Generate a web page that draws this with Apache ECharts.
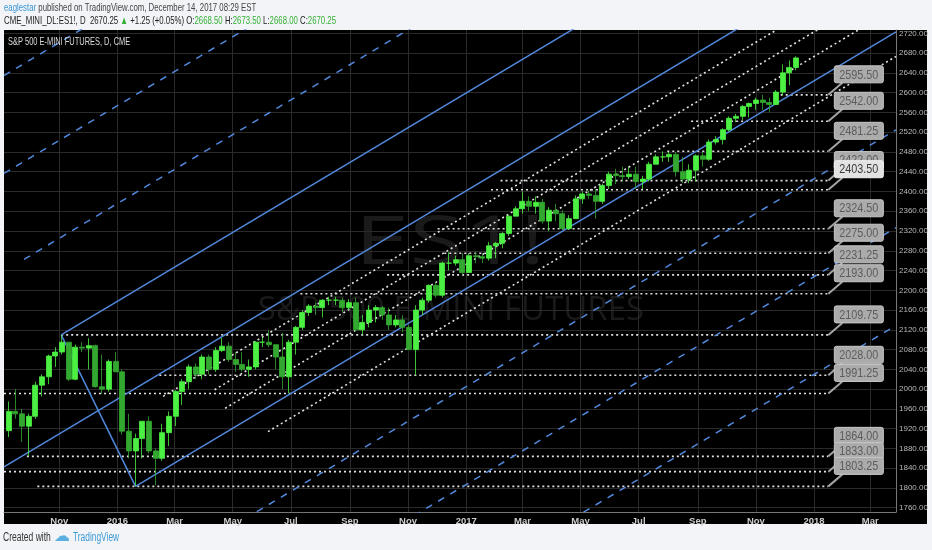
<!DOCTYPE html>
<html>
<head>
    <meta charset="utf-8">
    <title>S&amp;P 500 E-MINI FUTURES, D, CME</title>
    <script src="https://cdn.jsdelivr.net/npm/echarts@6.0.0/dist/echarts.min.js"></script>
    <style>
        html, body { margin: 0; padding: 0; background: #f2f4f7; }
        #chart { width: 932px; height: 550px; }
    </style>
</head>
<body>
<div id="chart"></div>
<script type="text/javascript">
    // weekly bars of ES1! (mid-week date)
    var weeks = [
        '2015-09-09','2015-09-16','2015-09-23','2015-09-30','2015-10-07','2015-10-14','2015-10-21','2015-10-28','2015-11-04','2015-11-11','2015-11-18','2015-11-25','2015-12-02','2015-12-09','2015-12-16','2015-12-23','2015-12-30',
        '2016-01-06','2016-01-13','2016-01-20','2016-01-27','2016-02-03','2016-02-10','2016-02-17','2016-02-24','2016-03-02','2016-03-09','2016-03-16','2016-03-23','2016-03-30','2016-04-06','2016-04-13','2016-04-20','2016-04-27','2016-05-04','2016-05-11','2016-05-18','2016-05-25','2016-06-01','2016-06-08','2016-06-15','2016-06-22','2016-06-29','2016-07-06','2016-07-13','2016-07-20','2016-07-27','2016-08-03','2016-08-10','2016-08-17','2016-08-24','2016-08-31','2016-09-07','2016-09-14','2016-09-21','2016-09-28','2016-10-05','2016-10-12','2016-10-19','2016-10-26','2016-11-02','2016-11-09','2016-11-16','2016-11-23','2016-11-30','2016-12-07','2016-12-14','2016-12-21','2016-12-28',
        '2017-01-04','2017-01-11','2017-01-18','2017-01-25','2017-02-01','2017-02-08','2017-02-15','2017-02-22','2017-03-01','2017-03-08','2017-03-15','2017-03-22','2017-03-29','2017-04-05','2017-04-12','2017-04-19','2017-04-26','2017-05-03','2017-05-10','2017-05-17','2017-05-24','2017-05-31','2017-06-07','2017-06-14','2017-06-21','2017-06-28','2017-07-05','2017-07-12','2017-07-19','2017-07-26','2017-08-02','2017-08-09','2017-08-16','2017-08-23','2017-08-30','2017-09-06','2017-09-13','2017-09-20','2017-09-27','2017-10-04','2017-10-11','2017-10-18','2017-10-25','2017-11-01','2017-11-08','2017-11-15','2017-11-22','2017-11-29','2017-12-06','2017-12-13'
    ];
    var opens = [
        1916,1955,1950,1925,1945,2008,2025,2067,2075,2095,2020,2085,2083,2088,2005,2000,2056,
        2035,1915,1875,1900,1935,1875,1860,1912,1945,1995,2015,2045,2030,2065,2040,2078,2087,2060,2050,2040,2045,2095,2095,2090,2065,2025,2095,2125,2155,2168,2165,2180,2180,2180,2165,2175,2120,2135,2160,2165,2150,2130,2140,2125,2080,2160,2180,2210,2190,2255,2255,2262,
        2236,2270,2268,2265,2290,2295,2315,2350,2365,2380,2370,2378,2340,2362,2355,2325,2345,2385,2395,2392,2380,2412,2435,2432,2430,2435,2420,2425,2455,2470,2470,2475,2440,2425,2443,2472,2465,2500,2505,2525,2548,2552,2572,2578,2585,2580,2576,2601,2640,2651
    ];
    var closes = [
        1955,1950,1925,1945,2008,2025,2067,2075,2095,2020,2085,2083,2088,2005,2000,2056,2035,
        1915,1875,1900,1935,1875,1860,1912,1945,1995,2015,2045,2030,2065,2040,2078,2087,2060,2050,2040,2045,2095,2095,2090,2065,2025,2095,2125,2155,2168,2165,2180,2180,2180,2165,2175,2120,2135,2160,2165,2150,2130,2140,2125,2080,2160,2180,2210,2190,2255,2255,2262,2236,
        2270,2268,2265,2290,2295,2315,2350,2365,2380,2370,2378,2340,2362,2355,2325,2345,2385,2395,2392,2380,2412,2435,2432,2430,2435,2420,2425,2455,2470,2470,2475,2440,2425,2443,2472,2465,2500,2505,2525,2548,2552,2572,2578,2585,2580,2576,2601,2640,2651,2670.25
    ];
    var lows = [
        1903,1940,1893,1864,1940,1985,2010,2045,2070,2016,2018,2075,2040,2003,1990,1995,2035,
        1908,1860,1803.25,1860,1870,1806,1855,1885,1925,1968,2000,2020,2020,2030,2035,2075,2055,2035,2035,2025,2040,2085,2085,2040,2000,1991.25,2070,2120,2148,2150,2145,2170,2170,2155,2160,2118,2110,2125,2135,2140,2120,2125,2115,2080,2028,2150,2175,2185,2185,2240,2250,2231.25,
        2235,2255,2255,2260,2265,2285,2310,2350,2355,2360,2355,2335,2320,2340,2322,2322,2345,2375,2385,2345,2375,2405,2415,2420,2425,2405,2405,2420,2455,2460,2460,2430,2417,2417,2420,2450,2462,2495,2495,2522,2540,2545,2550,2565,2565,2560,2575,2595,2615,2645
    ];
    var highs = [
        1975,2000,1960,1950,2015,2030,2070,2085,2109.75,2095,2090,2095,2103,2090,2070,2060,2075,
        2040,1950,1910,1935,1945,1880,1930,1955,1998,2020,2050,2052,2070,2070,2085,2104,2095,2075,2075,2060,2097,2105,2119,2090,2114,2100,2128,2160,2172,2175,2182,2187,2187,2185,2182,2185,2150,2170,2170,2168,2165,2150,2150,2130,2170,2185,2212,2215,2258,2277,2270,2275,
        2275,2277,2274,2298,2298,2318,2352,2370,2400,2390,2390,2385,2368,2375,2362,2352,2392,2400,2402,2405,2416,2440,2446,2450,2450,2450,2432,2460,2475,2481.25,2480,2480,2470,2455,2475,2480,2505,2512,2528,2552,2557,2575,2580,2590,2595.5,2590,2605,2657,2665,2673.5
    ];

    // pitchfork: tines, handle and extension levels [startDate, startValue, endDate, endValue]
    var forkSolid = [
        ['2015-11-03', 2109.75, '2018-03-28', 3118.8],
        ['2015-09-04', 1842.5, '2018-03-28', 2920.8],
        ['2016-01-20', 1803.25, '2018-03-28', 2722.8],
        ['2015-11-03', 2109.75, '2016-01-20', 1803.25]
    ];
    var forkDashed = [
        ['2015-09-25', 2262.6, '2018-03-28', 3316.8],
        ['2015-09-04', 2436.5, '2018-03-28', 3514.8],
        ['2015-09-04', 2634.5, '2018-03-28', 3712.8],
        ['2016-02-28', 1650.3, '2018-03-28', 2524.8],
        ['2016-04-07', 1497.0, '2018-03-28', 2326.8],
        ['2016-05-16', 1344.2, '2018-03-28', 2128.8]
    ];
    var channelDotted = [
        ['2016-02-18', 1985.4, '2018-03-28', 2871.3],
        ['2016-04-12', 1998.8, '2018-03-28', 2821.8],
        ['2016-04-23', 1961.2, '2018-03-28', 2772.3],
        ['2016-06-07', 1914.1, '2018-03-28', 2673.3]
    ];

    // horizontal levels with their start dates, all ending at the tags
    var levelValues = [2595.50, 2542.00, 2481.25, 2422.00, 2403.50, 2324.50, 2275.00, 2231.25, 2193.00, 2109.75, 2028.00, 1991.25, 1864.00, 1833.00, 1803.25];
    var levelStarts = ['2017-11-27','2017-08-25','2017-07-31','2017-02-06','2017-01-27','2016-12-02','2016-12-09','2016-10-10','2016-07-11','2015-11-03','2016-02-14','2015-09-04','2015-09-28','2015-09-04','2015-10-09'];
    var levelEnd = '2018-01-16';
    var activeLevel = 2403.50;
    var lastPrice = 2670.25;

    var priceTicks = [1760,1800,1840,1880,1920,1960,2000,2040,2080,2120,2160,2200,2240,2280,2320,2360,2400,2440,2480,2520,2560,2600,2640,2680,2720];
    var monthTicks = ['2015-11-01','2016-01-01','2016-03-01','2016-05-01','2016-07-01','2016-09-01','2016-11-01','2017-01-01','2017-03-01','2017-05-01','2017-07-01','2017-09-01','2017-11-01','2018-01-01','2018-03-01'];
    var monthNames = ['Jan','Feb','Mar','Apr','May','Jun','Jul','Aug','Sep','Oct','Nov','Dec'];
    var firstDay = '2015-09-04', lastDay = '2018-03-28';

    var FONT = '"Liberation Sans", "Noto Sans", sans-serif';
    var BLUE = '#5288dc';
    var DOTS = '#e2e2e2';
    var NARROW = 0.71; // the original uses a condensed face

    function ts(s) { return echarts.time.parse(s).getTime(); }
    var monthTs = monthTicks.map(ts);

    var bars = weeks.map(function (w, i) {
        return [ts(w), opens[i], closes[i], lows[i], highs[i]];
    });

    function segSeries(list, style) {
        return list.map(function (l) {
            return {
                type: 'line', silent: true, symbol: 'none', clip: true, z: 3,
                data: [[ts(l[0]), l[1]], [ts(l[2]), l[3]]],
                lineStyle: style
            };
        });
    }

    var series = [];
    series = series.concat(segSeries(channelDotted, { color: DOTS, width: 1.6, type: [2, 3] }));
    series = series.concat(levelValues.map(function (v, i) {
        return {
            type: 'line', silent: true, symbol: 'none', clip: true, z: 3,
            data: [[ts(levelStarts[i]), v], [ts(levelEnd), v]],
            lineStyle: { color: DOTS, width: 1.6, type: [2, 3] }
        };
    }));
    series = series.concat(segSeries(forkDashed, { color: BLUE, width: 1.5, type: [7, 7] }));
    series = series.concat(segSeries(forkSolid, { color: BLUE, width: 1.5, type: 'solid' }));

    series.push({
        type: 'candlestick',
        data: bars,
        encode: { x: 0, y: [1, 2, 3, 4] },
        barWidth: 5.5,
        z: 4,
        itemStyle: {
            color: '#4bf043', color0: '#33a830',
            borderColor: '#4bf043', borderColor0: '#33a830', borderWidth: 0.8
        },
        markLine: {
            silent: true, symbol: 'none',
            lineStyle: { opacity: 0 },
            label: {
                position: 'end', distance: 2,
                formatter: function () { return lastPrice.toFixed(2); },
                color: '#111', backgroundColor: '#f4f4f4', fontWeight: 'bold',
                fontFamily: FONT, fontSize: 8, padding: [1, 1]
            },
            data: [{ yAxis: lastPrice }]
        }
    });

    // grey level tags with their pointer
    series.push({
        type: 'custom', silent: true, z: 6,
        data: levelValues.map(function (v) { return [ts(levelEnd), v]; }),
        encode: { x: 0, y: 1 },
        renderItem: function (params, api) {
            var v = api.value(1);
            var p = api.coord([api.value(0), v]);
            var hi = v === activeLevel;
            return {
                type: 'group',
                children: [
                    { type: 'line', shape: { x1: p[0], y1: p[1], x2: p[0] + 14, y2: p[1] - 12 },
                      style: { stroke: '#a4a4a4', lineWidth: 2 } },
                    { type: 'rect', shape: { x: p[0] + 6, y: p[1] - 29, width: 49, height: 17, r: 2 },
                      style: { fill: hi ? '#e2e2e2' : '#ababab', stroke: hi ? '#f4f4f4' : '#c8c8c8', lineWidth: 1 } },
                    { type: 'text', x: p[0] + 30.5, y: p[1] - 20, scaleX: 0.8,
                      style: { text: v.toFixed(2), x: 0, y: 0, align: 'center', verticalAlign: 'middle',
                               fill: hi ? '#3a3a3a' : '#5c5c5c', font: '13.5px ' + FONT } }
                ]
            };
        }
    });

    var myChart = echarts.init(document.getElementById('chart'));
    myChart.setOption({
        animation: false,
        backgroundColor: '#f2f4f7',
        grid: { left: 4, top: 30, right: 36, bottom: 38 },
        xAxis: {
            type: 'value',
            min: ts(firstDay), max: ts(lastDay),
            axisLine: { show: true, lineStyle: { color: '#777', width: 1 } },
            axisTick: { show: false, customValues: monthTs },
            axisLabel: {
                customValues: monthTs, margin: 4,
                color: '#cfcfcf', fontWeight: 'bold', fontSize: 9.5, fontFamily: FONT,
                formatter: function (val) {
                    var d = new Date(val);
                    return d.getMonth() === 0 ? String(d.getFullYear()) : monthNames[d.getMonth()];
                }
            },
            splitLine: { show: true, lineStyle: { color: '#2a2a2a', width: 1 } }
        },
        yAxis: {
            type: 'value', position: 'right',
            min: 1751.4, max: 2726.7,
            axisLine: { show: true, lineStyle: { color: '#777', width: 1 } },
            axisTick: { show: false, customValues: priceTicks },
            axisLabel: {
                customValues: priceTicks, margin: 3,
                color: '#b8b8b8', fontSize: 8, fontFamily: FONT,
                formatter: function (v) { return v.toFixed(2); }
            },
            splitLine: { show: true, lineStyle: { color: '#2a2a2a', width: 1 } }
        },
        graphic: [
            { type: 'rect', z: -10, silent: true, shape: { x: 4, y: 30, width: 923, height: 494 }, style: { fill: '#000' } },
            { type: 'text', z: -5, silent: true, x: 450, y: 245, scaleX: 1.45,
              style: { text: 'ES1!', x: 0, y: 0, align: 'center', verticalAlign: 'middle', fill: '#1a1a1a', font: '68px "Open Sans", sans-serif' } },
            { type: 'text', z: -5, silent: true, x: 451, y: 311,
              style: { text: 'S&P 500 E-MINI FUTURES', align: 'center', verticalAlign: 'middle', fill: '#1a1a1a', font: '33px "Open Sans", sans-serif' } },
            { type: 'text', z: 10, silent: true, x: 8, y: 42, scaleX: NARROW,
              style: { text: 'S&P 500 E-MINI FUTURES, D, CME', verticalAlign: 'middle', fill: '#dadada', font: '10.5px ' + FONT } },
            { type: 'text', z: 10, silent: true, x: 4, y: 8, scaleX: NARROW,
              style: {
                  text: '{a|eaglestar} published on TradingView.com, December 14, 2017 08:29 EST',
                  verticalAlign: 'middle', fill: '#444', font: '11px ' + FONT,
                  rich: { a: { fill: '#3a95d5', font: '11px ' + FONT } }
              } },
            { type: 'text', z: 10, silent: true, x: 4, y: 21, scaleX: NARROW,
              style: {
                  text: 'CME_MINI_DL:ES1!, D  2670.25 {g|▲} +1.25 (+0.05%) O:{g|2668.50} H:{g|2673.50} L:{g|2668.00} C:{g|2670.25}',
                  verticalAlign: 'middle', fill: '#222', font: '11px ' + FONT,
                  rich: { g: { fill: '#35b035', font: '11px ' + FONT } }
              } },
            { type: 'text', z: 10, silent: true, x: 3, y: 538, scaleX: NARROW,
              style: { text: 'Created with', verticalAlign: 'middle', fill: '#333', font: '12px ' + FONT } },
            { type: 'text', z: 10, silent: true, x: 54, y: 537,
              style: { text: '☁', verticalAlign: 'middle', fill: '#5aaee0', font: '16px "DejaVu Sans", sans-serif' } },
            { type: 'text', z: 10, silent: true, x: 73, y: 538, scaleX: 0.67,
              style: { text: 'TradingView', verticalAlign: 'middle', fill: '#3f9bd6', font: '12.5px ' + FONT } }
        ],
        series: series
    });
</script>
</body>
</html>
